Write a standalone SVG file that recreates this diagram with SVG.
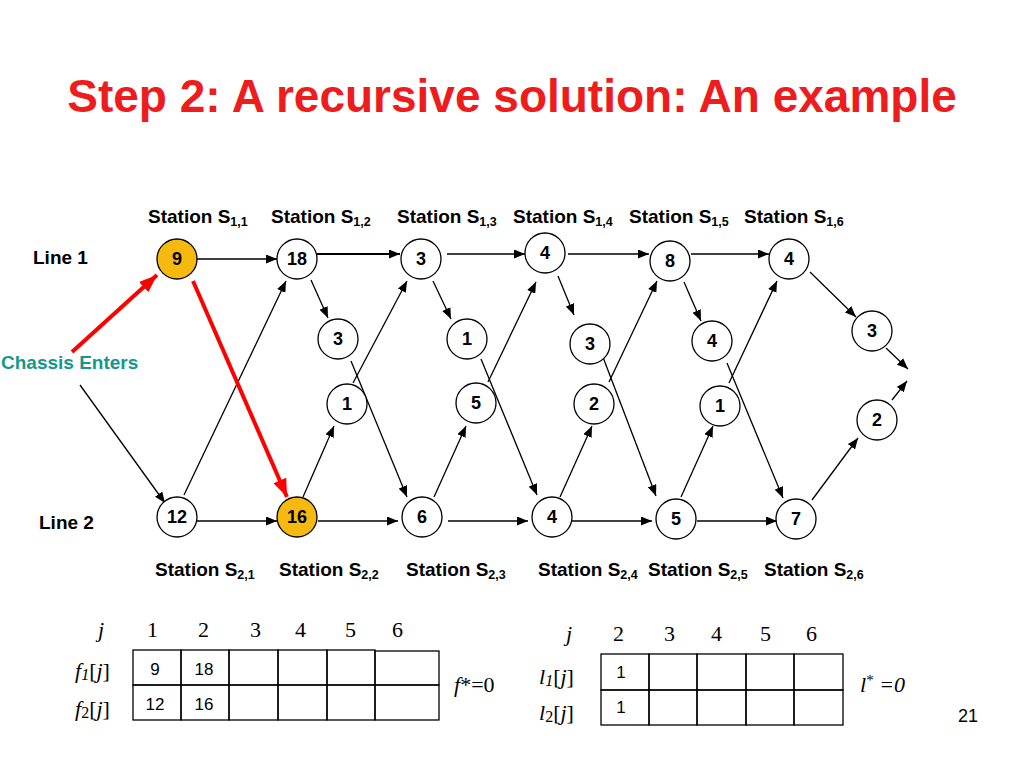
<svg xmlns="http://www.w3.org/2000/svg" width="1024" height="768" viewBox="0 0 1024 768">
<defs>
<marker id="ah" markerUnits="userSpaceOnUse" markerWidth="11" markerHeight="9" refX="11" refY="4.5" orient="auto"><path d="M0,0 L11,4.5 L0,9 z" fill="#000"/></marker>
<marker id="ahr" markerUnits="userSpaceOnUse" markerWidth="18" markerHeight="14" refX="18" refY="7" orient="auto"><path d="M0,0 L18,7 L0,14 z" fill="#FF0000"/></marker>
<style>
.t{font-family:"Liberation Sans",Arial,sans-serif;font-weight:bold;}
.st{font-family:"Liberation Sans",Arial,sans-serif;font-weight:bold;font-size:19px;fill:#000;}
.ce{fill:#12998C;}
.sub{font-size:12.5px;}
.nd circle{fill:#fff;stroke:#000;stroke-width:1.3;}
.nd text{font-family:"Liberation Sans",Arial,sans-serif;font-weight:bold;font-size:18px;text-anchor:middle;fill:#000;}
.hl circle{fill:#F6B90F;}
.e line{stroke:#000;stroke-width:1.3;marker-end:url(#ah);}
.e line.r{stroke:#FF0000;stroke-width:4;marker-end:url(#ahr);}
.sr{font-family:"Liberation Serif","Times New Roman",serif;font-size:22px;fill:#000;}
.cv{font-family:"Liberation Sans",Arial,sans-serif;font-size:17px;fill:#000;text-anchor:middle;}
.tb rect{fill:none;stroke:#000;stroke-width:1.3;}
</style>
</defs>
<rect width="1024" height="768" fill="#fff"/>
<text x="512" y="112" text-anchor="middle" class="t" font-size="46" fill="#EE1C1C">Step 2: A recursive solution: An example</text>

<g id="labels">
<text class="st" x="148" y="223">Station S<tspan class="sub" dy="3">1,1</tspan></text>
<text class="st" x="271" y="223">Station S<tspan class="sub" dy="3">1,2</tspan></text>
<text class="st" x="397" y="223">Station S<tspan class="sub" dy="3">1,3</tspan></text>
<text class="st" x="513" y="223">Station S<tspan class="sub" dy="3">1,4</tspan></text>
<text class="st" x="629" y="223">Station S<tspan class="sub" dy="3">1,5</tspan></text>
<text class="st" x="744" y="223">Station S<tspan class="sub" dy="3">1,6</tspan></text>
<text class="st" x="155" y="576">Station S<tspan class="sub" dy="3">2,1</tspan></text>
<text class="st" x="279" y="576">Station S<tspan class="sub" dy="3">2,2</tspan></text>
<text class="st" x="406" y="576">Station S<tspan class="sub" dy="3">2,3</tspan></text>
<text class="st" x="538" y="576">Station S<tspan class="sub" dy="3">2,4</tspan></text>
<text class="st" x="648" y="576">Station S<tspan class="sub" dy="3">2,5</tspan></text>
<text class="st" x="764" y="576">Station S<tspan class="sub" dy="3">2,6</tspan></text>
<text class="st" x="33" y="264">Line 1</text>
<text class="st" x="39" y="529">Line 2</text>
<text class="st ce" x="1" y="369">Chassis Enters</text>
</g>

<g id="connectors" class="e">
<line x1="197" y1="259" x2="277" y2="259"/>
<line x1="317" y1="254" x2="400" y2="254" style="stroke-width:2"/>
<line x1="447" y1="254" x2="525" y2="254"/>
<line x1="568" y1="254" x2="649" y2="254"/>
<line x1="691" y1="254" x2="769" y2="254"/>
<line x1="197" y1="521" x2="277" y2="521"/>
<line x1="318" y1="521" x2="398" y2="521"/>
<line x1="448" y1="521" x2="528" y2="521"/>
<line x1="571" y1="521" x2="652" y2="521"/>
<line x1="697" y1="521" x2="777" y2="521"/>
<line x1="311" y1="280" x2="328" y2="318"/>
<line x1="351" y1="361" x2="407" y2="497"/>
<line x1="433" y1="281" x2="451" y2="319"/>
<line x1="481" y1="359" x2="537" y2="495"/>
<line x1="558" y1="276" x2="574" y2="315"/>
<line x1="601" y1="352" x2="656" y2="496"/>
<line x1="684" y1="282" x2="701" y2="321"/>
<line x1="727" y1="363" x2="783" y2="498"/>
<line x1="184" y1="495" x2="286" y2="281"/>
<line x1="303" y1="497" x2="334" y2="426"/>
<line x1="353" y1="383" x2="407" y2="281"/>
<line x1="434" y1="497" x2="466" y2="426"/>
<line x1="488" y1="382" x2="536" y2="282"/>
<line x1="560" y1="497" x2="592" y2="426"/>
<line x1="609" y1="382" x2="657" y2="281"/>
<line x1="681" y1="497" x2="713" y2="426"/>
<line x1="729" y1="383" x2="777" y2="281"/>
<line x1="810" y1="272" x2="856" y2="317"/>
<line x1="886" y1="348" x2="908" y2="369"/>
<line x1="892" y1="400" x2="907" y2="381"/>
<line x1="812" y1="500" x2="858" y2="438"/>
<line x1="80" y1="385" x2="165" y2="503"/>
<line class="r" x1="72" y1="352" x2="157" y2="275"/>
<line class="r" x1="193" y1="281" x2="287" y2="497"/>
</g>

<g id="n11" class="nd hl"><circle cx="177" cy="259" r="20"/><text x="177" y="265">9</text></g>
<g id="n12" class="nd"><circle cx="297" cy="259" r="20"/><text x="297" y="265">18</text></g>
<g id="n13" class="nd"><circle cx="421" cy="259" r="20"/><text x="421" y="265">3</text></g>
<g id="n14" class="nd"><circle cx="545" cy="253" r="20"/><text x="545" y="259">4</text></g>
<g id="n15" class="nd"><circle cx="670" cy="261" r="20"/><text x="670" y="267">8</text></g>
<g id="n16" class="nd"><circle cx="789" cy="259" r="20"/><text x="789" y="265">4</text></g>
<g id="t12" class="nd"><circle cx="338" cy="339" r="20"/><text x="338" y="345">3</text></g>
<g id="t13" class="nd"><circle cx="467" cy="339" r="20"/><text x="467" y="345">1</text></g>
<g id="t14" class="nd"><circle cx="590" cy="344" r="20"/><text x="590" y="350">3</text></g>
<g id="t15" class="nd"><circle cx="712" cy="341" r="20"/><text x="712" y="347">4</text></g>
<g id="x1" class="nd"><circle cx="872" cy="331" r="20"/><text x="872" y="337">3</text></g>
<g id="t22" class="nd"><circle cx="347" cy="404" r="20"/><text x="347" y="410">1</text></g>
<g id="t23" class="nd"><circle cx="476" cy="403" r="20"/><text x="476" y="409">5</text></g>
<g id="t24" class="nd"><circle cx="594" cy="404" r="20"/><text x="594" y="410">2</text></g>
<g id="t25" class="nd"><circle cx="720" cy="406" r="20"/><text x="720" y="412">1</text></g>
<g id="x2" class="nd"><circle cx="877" cy="420" r="20"/><text x="877" y="426">2</text></g>
<g id="n21" class="nd"><circle cx="177" cy="517" r="20"/><text x="177" y="523">12</text></g>
<g id="n22" class="nd hl"><circle cx="297" cy="517" r="20"/><text x="297" y="523">16</text></g>
<g id="n23" class="nd"><circle cx="422" cy="517" r="20"/><text x="422" y="523">6</text></g>
<g id="n24" class="nd"><circle cx="552" cy="517" r="20"/><text x="552" y="523">4</text></g>
<g id="n25" class="nd"><circle cx="676" cy="519" r="20"/><text x="676" y="525">5</text></g>
<g id="n26" class="nd"><circle cx="796" cy="519" r="20"/><text x="796" y="525">7</text></g>

<g id="ftable" class="tb">
<rect x="133" y="650" width="48" height="35"/><rect x="181" y="650" width="48" height="35"/><rect x="229" y="650" width="49" height="35"/><rect x="278" y="650" width="49" height="35"/><rect x="327" y="650" width="48" height="35"/><rect x="375" y="651" width="64" height="34"/>
<rect x="133" y="685" width="48" height="35"/><rect x="181" y="685" width="48" height="35"/><rect x="229" y="685" width="49" height="35"/><rect x="278" y="685" width="49" height="35"/><rect x="327" y="685" width="48" height="35"/><rect x="375" y="685" width="64" height="35"/>
<text class="sr" x="98" y="637" font-style="italic">j</text>
<text class="sr" x="147" y="637">1</text><text class="sr" x="198" y="637">2</text><text class="sr" x="250" y="637">3</text><text class="sr" x="295" y="637">4</text><text class="sr" x="345" y="637">5</text><text class="sr" x="392" y="637">6</text>
<text class="sr" x="75" y="678"><tspan font-style="italic">f</tspan><tspan font-style="italic" font-size="16" dy="2">1</tspan><tspan dy="-2">[</tspan><tspan font-style="italic">j</tspan>]</text>
<text class="sr" x="75" y="716"><tspan font-style="italic">f</tspan><tspan font-size="16" dy="2">2</tspan><tspan dy="-2">[</tspan><tspan font-style="italic">j</tspan>]</text>
<text class="cv" x="155" y="675">9</text><text class="cv" x="204" y="675">18</text>
<text class="cv" x="155" y="710">12</text><text class="cv" x="204" y="710">16</text>
<text class="sr" x="454" y="692" font-size="23"><tspan font-style="italic">f</tspan>*=0</text>
</g>

<g id="ltable" class="tb">
<rect x="601" y="654" width="48" height="36"/><rect x="649" y="654" width="48" height="36"/><rect x="697" y="654" width="49" height="36"/><rect x="746" y="654" width="48" height="36"/><rect x="794" y="654" width="49" height="36"/>
<rect x="601" y="690" width="48" height="35"/><rect x="649" y="690" width="48" height="35"/><rect x="697" y="690" width="49" height="35"/><rect x="746" y="690" width="48" height="35"/><rect x="794" y="690" width="49" height="35"/>
<text class="sr" x="566" y="641" font-style="italic">j</text>
<text class="sr" x="613" y="641">2</text><text class="sr" x="664" y="641">3</text><text class="sr" x="711" y="641">4</text><text class="sr" x="760" y="641">5</text><text class="sr" x="806" y="641">6</text>
<text class="sr" x="539" y="684"><tspan font-style="italic">l</tspan><tspan font-style="italic" font-size="16" dy="2">1</tspan><tspan dy="-2">[</tspan><tspan font-style="italic">j</tspan>]</text>
<text class="sr" x="539" y="720"><tspan font-style="italic">l</tspan><tspan font-size="16" dy="2">2</tspan><tspan dy="-2">[</tspan><tspan font-style="italic">j</tspan>]</text>
<text class="cv" x="621" y="678">1</text>
<text class="cv" x="621" y="713">1</text>
<text class="sr" x="860" y="692" font-style="italic">l<tspan font-style="normal" font-size="15" dy="-7">*</tspan><tspan dy="7"> =0</tspan></text>
</g>
<text x="958" y="722" font-family="Liberation Sans, Arial, sans-serif" font-size="18" fill="#000">21</text>
</svg>
